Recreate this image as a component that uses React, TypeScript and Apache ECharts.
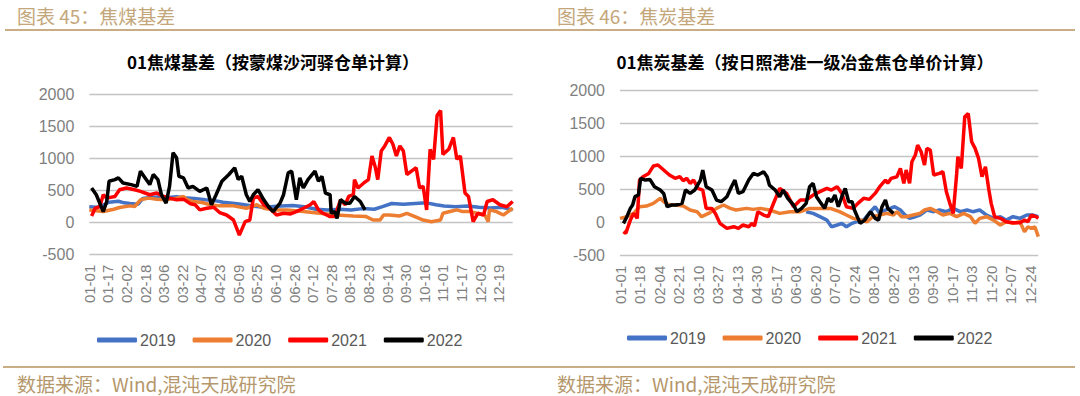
import React, { useEffect, useRef } from "react";
import * as echarts from "echarts";

const MONTH_DAYS = [31, 28, 31, 30, 31, 30, 31, 31, 30, 31, 30, 31];
const dayLabels: string[] = [];
MONTH_DAYS.forEach((n, m) => {
  for (let d = 1; d <= n; d++) {
    dayLabels.push(`${String(m + 1).padStart(2, "0")}-${String(d).padStart(2, "0")}`);
  }
});

const yearNames = ["2019", "2020", "2021", "2022"];
const yearColors = ["#4472C4", "#ED7D31", "#FF0000", "#000000"];

const leftHeader = "图表 45：焦煤基差";
const rightHeader = "图表 46：焦炭基差";
const leftTitle = "01焦煤基差（按蒙煤沙河驿仓单计算）";
const rightTitle = "01焦炭基差（按日照港准一级冶金焦仓单价计算）";
const sourceText = "数据来源：Wind,混沌天成研究院";

// [day-of-year index, value]
const coal2019 = [[0,250],[6,240],[10,260],[17,320],[25,335],[30,310],[35,300],[42,290],[46,380],[52,395],[60,400],[68,395],[75,405],[82,390],[90,380],[100,360],[108,345],[115,320],[125,300],[132,285],[140,260],[150,240],[158,255],[165,260],[175,270],[185,250],[195,210],[205,200],[215,210],[225,200],[235,220],[245,210],[252,250],[260,300],[270,290],[280,300],[290,310],[298,280],[305,260],[315,250],[325,260],[335,240],[345,230],[355,240],[364,200]];
const coal2020 = [[0,200],[12,174],[21,210],[26,237],[35,263],[39,253],[44,358],[51,384],[58,368],[66,358],[75,384],[81,410],[84,358],[89,331],[97,316],[104,280],[112,263],[124,263],[135,226],[144,280],[150,226],[158,200],[170,200],[184,174],[198,147],[213,120],[227,105],[238,95],[244,42],[250,42],[253,120],[258,120],[267,105],[273,147],[280,95],[287,42],[294,16],[302,42],[304,147],[310,174],[316,200],[321,174],[327,174],[333,147],[340,120],[343,16],[344,200],[350,174],[356,120],[364,226]];
const coal2021 = [[2,105],[5,226],[9,250],[12,437],[15,384],[22,410],[26,515],[32,542],[39,515],[44,490],[52,437],[58,463],[64,410],[69,384],[75,358],[81,368],[87,295],[91,280],[95,200],[101,226],[107,242],[112,158],[118,120],[124,42],[129,-195],[134,16],[138,42],[141,384],[145,410],[150,280],[155,226],[161,120],[167,147],[173,137],[178,173],[184,226],[190,280],[193,331],[197,200],[201,147],[207,95],[211,95],[216,358],[220,280],[223,410],[227,437],[228,674],[231,542],[236,621],[240,674],[243,1042],[246,858],[248,674],[251,1121],[254,1200],[258,1332],[261,1226],[264,1042],[267,1200],[270,1121],[273,753],[279,832],[281,858],[284,542],[287,568],[290,200],[293,1147],[296,990],[299,1674],[302,1753],[304,1068],[309,1147],[313,1332],[316,990],[319,1042],[323,463],[326,410],[330,16],[334,147],[339,120],[342,331],[347,358],[353,280],[359,250],[364,331]];
const coal2022 = [[2,542],[6,437],[12,174],[15,331],[17,647],[22,674],[25,700],[29,621],[36,595],[41,568],[44,805],[48,700],[52,595],[55,753],[59,674],[62,437],[66,305],[69,568],[72,1095],[75,1016],[77,726],[81,700],[85,542],[89,568],[95,490],[101,542],[105,280],[109,437],[114,647],[120,753],[125,858],[128,674],[131,726],[135,437],[138,331],[141,437],[145,515],[150,358],[154,253],[158,174],[164,305],[167,437],[171,779],[174,805],[178,358],[181,700],[184,542],[188,674],[194,805],[197,647],[200,726],[203,463],[207,437],[208,147],[211,174],[213,68],[216,358],[220,305],[224,305],[228,410],[233,331],[237,200]];

const coke2019 = [[162,167],[168,141],[174,91],[180,40],[184,-61],[189,-35],[193,-10],[197,-61],[202,-10],[206,15],[212,40],[218,167],[222,242],[226,141],[231,192],[235,217],[239,242],[244,192],[248,116],[252,66],[257,91],[261,116],[267,192],[273,167],[278,192],[284,167],[290,217],[296,167],[302,192],[307,167],[313,192],[319,116],[325,66],[331,91],[336,40],[342,91],[348,66],[354,116],[359,116],[364,91]];
const coke2020 = [[0,66],[6,91],[12,141],[17,242],[23,252],[29,293],[35,369],[38,318],[43,268],[49,268],[55,252],[61,192],[67,167],[71,91],[77,141],[84,217],[90,268],[96,217],[101,192],[110,217],[116,202],[122,217],[130,192],[139,141],[148,167],[157,167],[165,217],[174,217],[183,217],[191,167],[197,116],[203,66],[209,40],[215,15],[220,91],[226,116],[232,141],[238,116],[241,167],[245,91],[249,91],[255,116],[261,141],[265,192],[270,217],[276,167],[281,116],[287,141],[293,91],[299,141],[305,91],[309,-10],[313,66],[319,91],[325,40],[331,-35],[336,15],[342,-10],[348,15],[352,-136],[355,-61],[358,-86],[361,-61],[364,-212]];
const coke2021 = [[3,-136],[5,-162],[9,40],[12,141],[15,66],[17,646],[20,697],[25,747],[29,858],[33,874],[38,798],[43,722],[48,672],[52,697],[55,636],[58,672],[61,596],[64,646],[68,520],[72,495],[75,217],[80,217],[83,141],[87,-10],[93,-86],[99,-61],[103,-86],[107,-35],[112,-61],[115,-10],[117,-50],[120,167],[125,116],[129,91],[133,268],[139,520],[145,444],[151,242],[157,343],[162,343],[168,419],[174,470],[180,520],[184,495],[189,545],[193,444],[197,242],[203,217],[207,293],[212,369],[217,353],[222,444],[226,545],[231,646],[233,596],[236,672],[241,697],[244,823],[247,596],[249,798],[252,596],[254,924],[257,1025],[259,1177],[262,1076],[265,874],[267,1126],[270,1101],[273,722],[278,747],[281,773],[284,470],[287,293],[290,141],[293,747],[294,1000],[297,823],[300,1606],[303,1656],[306,1227],[309,1126],[312,975],[315,697],[318,848],[321,495],[323,293],[326,91],[331,66],[336,15],[342,0],[348,0],[352,40],[355,15],[358,116],[362,91],[364,66]];
const coke2022 = [[3,-10],[6,91],[9,217],[11,268],[13,394],[16,419],[18,672],[22,646],[26,656],[30,545],[35,495],[38,444],[41,242],[45,268],[49,268],[54,293],[57,495],[61,444],[65,495],[70,646],[72,798],[75,545],[80,495],[84,343],[88,318],[93,394],[97,545],[100,646],[103,444],[107,470],[112,646],[116,747],[120,722],[125,773],[128,697],[130,570],[135,495],[139,394],[142,495],[146,369],[151,268],[154,167],[158,217],[162,293],[165,545],[168,596],[171,394],[174,318],[178,217],[181,369],[184,318],[187,419],[190,242],[193,394],[196,520],[199,318],[202,318],[204,192],[209,-10],[213,40],[218,167],[222,66],[225,40],[228,242],[231,343],[233,217],[238,141]];

const leftSeries = [coal2019, coal2020, coal2021, coal2022];
const rightSeries = [coke2019, coke2020, coke2021, coke2022];

const NUM_FONT = "'Liberation Sans', Arial, sans-serif";
const CJK_FONT = "'Noto Sans CJK SC', sans-serif";
const TAN = "#C4A67B";

function App() {
  const ref = useRef<HTMLDivElement>(null);
  useEffect(() => {
    if (!ref.current) return;
    const chart = echarts.init(ref.current, null, { renderer: "svg" });

    const yAxis = (gridIndex: number) => ({
      type: "value",
      gridIndex,
      min: -500,
      max: 2000,
      interval: 500,
      axisLine: { show: false },
      axisTick: { show: false },
      axisLabel: {
        color: "#7f7f7f",
        fontSize: 16,
        fontFamily: NUM_FONT,
        margin: 15,
        formatter: (v: number) => String(v),
      },
      splitLine: { lineStyle: { color: "#c4c4c4", width: 1.3 } },
    });
    const xAxis = (gridIndex: number, interval: number) => ({
      type: "category",
      gridIndex,
      data: dayLabels,
      boundaryGap: false,
      axisLine: { show: false, onZero: false },
      axisTick: { show: false },
      axisLabel: {
        interval,
        rotate: 90,
        color: "#7f7f7f",
        fontSize: 15,
        fontFamily: NUM_FONT,
        margin: 10,
      },
      splitLine: { show: false },
    });

    const mkSeries = (arrs: number[][][], axis: number) =>
      arrs.map((data, i) => ({
        type: "line",
        name: yearNames[i],
        xAxisIndex: axis,
        yAxisIndex: axis,
        data,
        symbol: "none",
        lineStyle: { color: yearColors[i], width: 3.5 },
        itemStyle: { color: yearColors[i] },
        z: 2 + i,
      }));

    const legend = (left: number, top: number) => ({
      left,
      top,
      padding: 0,
      data: yearNames,
      icon: "roundRect",
      itemWidth: 40,
      itemHeight: 5,
      itemGap: 17,
      textStyle: { color: "#595959", fontSize: 16, fontFamily: NUM_FONT, padding: [0, 0, 0, -2] },
    });

    chart.setOption({
      animation: false,
      backgroundColor: "#ffffff",
      grid: [
        { left: 89.3, top: 94.7, width: 423.4, height: 160 },
        { left: 620, top: 90.7, width: 418.3, height: 165 },
      ],
      xAxis: [xAxis(0, 15), xAxis(1, 16)],
      yAxis: [yAxis(0), yAxis(1)],
      legend: [legend(97, 332), legend(627, 330)],
      series: [...mkSeries(leftSeries, 0), ...mkSeries(rightSeries, 1)],
      graphic: [
        { type: "text", x: 17, y: 15, style: { text: leftHeader, fill: TAN, font: `19px ${CJK_FONT}`, textVerticalAlign: "middle" } },
        { type: "text", x: 557, y: 15, style: { text: rightHeader, fill: TAN, font: `19px ${CJK_FONT}`, textVerticalAlign: "middle" } },
        { type: "line", shape: { x1: 5, y1: 30, x2: 1075, y2: 30 }, style: { stroke: "#C9AD85", lineWidth: 2 } },
        { type: "text", x: 273, y: 61, style: { text: leftTitle, fill: "#000", font: `bold 17px ${CJK_FONT}`, textAlign: "center", textVerticalAlign: "middle" } },
        { type: "text", x: 805, y: 61, style: { text: rightTitle, fill: "#000", font: `bold 17px ${CJK_FONT}`, textAlign: "center", textVerticalAlign: "middle" } },
        { type: "line", shape: { x1: 3, y1: 367, x2: 1075, y2: 367 }, style: { stroke: "#C9AD85", lineWidth: 2 } },
        { type: "text", x: 17, y: 383, style: { text: sourceText, fill: "#B5976B", font: `19px ${CJK_FONT}`, textVerticalAlign: "middle" } },
        { type: "text", x: 557, y: 383, style: { text: sourceText, fill: "#B5976B", font: `19px ${CJK_FONT}`, textVerticalAlign: "middle" } },
      ],
    });
    return () => chart.dispose();
  }, []);
  return (
    <div
      ref={ref}
      style={{ position: "fixed", left: 0, top: 0, width: 1080, height: 396, background: "#fff" }}
    />
  );
}

export default App;
